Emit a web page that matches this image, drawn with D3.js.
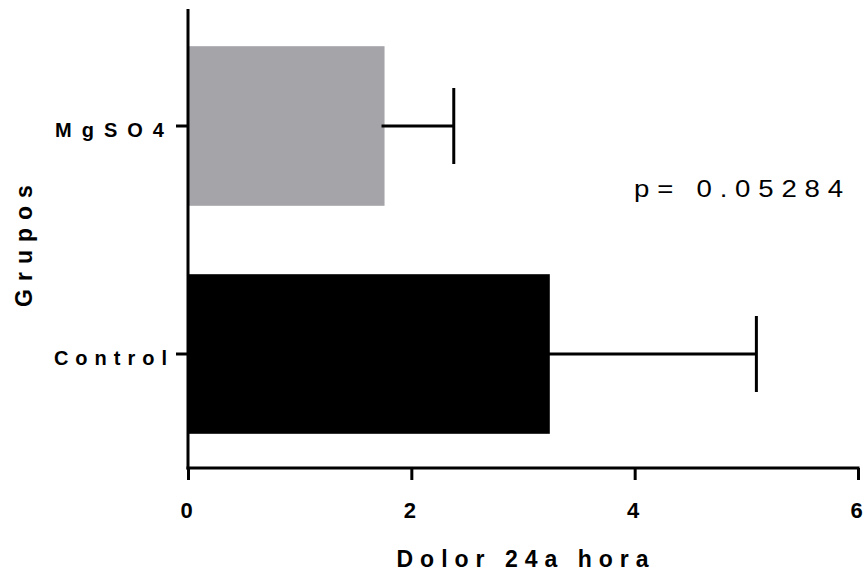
<!DOCTYPE html>
<html><head><meta charset="utf-8">
<script src="https://cdn.jsdelivr.net/npm/d3@7"></script>
<style>body{margin:0;background:#fff}svg{display:block}</style>
</head><body>
<script>
const categories = ["MgSO4", "Control"];
const means = [1.76, 3.24];
const errors = [0.62, 1.85];
const barColors = ["#a5a4a9", "#000000"];
const xTicks = [0, 2, 4, 6];
const pLabel = "p= 0.05284";
const xTitle = "Dolor 24a hora";
const yTitle = "Grupos";

const W = 864, H = 575;
const svg = d3.select("body").append("svg").attr("width", W).attr("height", H);
const x = d3.scaleLinear().domain([0, 6]).range([188, 858]);
const y = d3.scaleBand().domain(categories).range([12, 468]).paddingInner(0.3).paddingOuter(0.15);

const font = "'Liberation Sans', Arial, sans-serif";
const labelSpacing = {"MgSO4": 10, "Control": 7};

// bars
svg.selectAll("rect.bar").data(categories).join("rect")
  .attr("x", x(0)).attr("y", d => y(d))
  .attr("width", (d, i) => x(means[i]) - x(0))
  .attr("height", y.bandwidth())
  .attr("fill", (d, i) => barColors[i]);

// error bars
const eg = svg.append("g").attr("stroke", "#000").attr("stroke-width", 3);
categories.forEach((c, i) => {
  const cy = y(c) + y.bandwidth() / 2;
  eg.append("line").attr("x1", x(means[i]) - 3).attr("x2", x(means[i] + errors[i])).attr("y1", cy).attr("y2", cy);
  eg.append("line").attr("x1", x(means[i] + errors[i])).attr("x2", x(means[i] + errors[i]))
    .attr("y1", cy - 38).attr("y2", cy + 38);
});

// x axis
const xa = svg.append("g").attr("transform", "translate(0,468)")
  .call(d3.axisBottom(x).tickValues(xTicks).tickSize(12).tickPadding(22).tickFormat(d3.format("d")));
xa.select(".domain").attr("stroke-width", 3).attr("d", `M${x(0)-1.5},0H${x(6)+1.5}`);
xa.selectAll(".tick line").attr("stroke-width", 3);
xa.selectAll(".tick text").attr("font-family", font).attr("font-weight", "bold").attr("font-size", 22)
  .attr("fill", "#000").attr("dx", -2);

// y axis
const ya = svg.append("g").attr("transform", `translate(${x(0)},0)`)
  .call(d3.axisLeft(y).tickSize(12).tickPadding(2));
ya.select(".domain").attr("stroke-width", 3).attr("d", "M0,9V469.5");
ya.selectAll(".tick line").attr("stroke-width", 3);
ya.selectAll(".tick text").attr("font-family", font).attr("font-weight", "bold").attr("font-size", 20)
  .attr("letter-spacing", d => labelSpacing[d] + "px").attr("fill", "#000").attr("dy", "0.55em");

// titles
svg.append("text").attr("x", 526).attr("y", 567).attr("text-anchor", "middle")
  .attr("font-family", font).attr("font-weight", "bold").attr("font-size", 23).attr("letter-spacing", "7px")
  .text(xTitle);
svg.append("text").attr("transform", "translate(32,242) rotate(-90)").attr("text-anchor", "middle")
  .attr("font-family", font).attr("font-weight", "bold").attr("font-size", 23).attr("letter-spacing", "8px")
  .text(yTitle);

svg.append("text").attr("transform", "translate(634,197) scale(1.2,1)")
  .attr("font-family", font).attr("font-size", 23).attr("letter-spacing", "6.5px")
  .text(pLabel);
</script>
</body></html>
